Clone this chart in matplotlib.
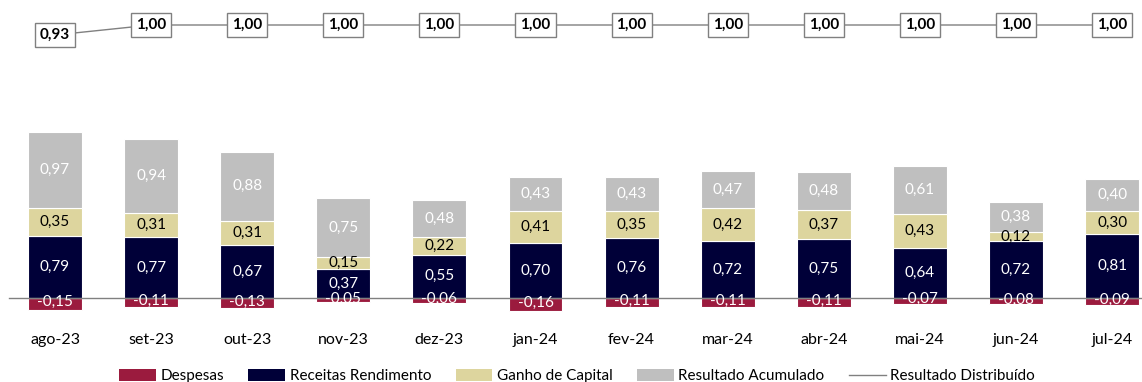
import matplotlib
matplotlib.use("Agg")
import matplotlib.pyplot as plt
from matplotlib.patches import Patch
from matplotlib.lines import Line2D
import numpy as np

plt.rcParams['font.family'] = ['Lato', 'DejaVu Sans']

meses = ["ago-23", "set-23", "out-23", "nov-23", "dez-23", "jan-24",
         "fev-24", "mar-24", "abr-24", "mai-24", "jun-24", "jul-24"]
despesas = [-0.15, -0.11, -0.13, -0.05, -0.06, -0.16, -0.11, -0.11, -0.11, -0.07, -0.08, -0.09]
receitas = [0.79, 0.77, 0.67, 0.37, 0.55, 0.70, 0.76, 0.72, 0.75, 0.64, 0.72, 0.81]
ganho = [0.35, 0.31, 0.31, 0.15, 0.22, 0.41, 0.35, 0.42, 0.37, 0.43, 0.12, 0.30]
acumulado = [0.97, 0.94, 0.88, 0.75, 0.48, 0.43, 0.43, 0.47, 0.48, 0.61, 0.38, 0.40]
distribuido = [0.93, 1.00, 1.00, 1.00, 1.00, 1.00, 1.00, 1.00, 1.00, 1.00, 1.00, 1.00]

c_desp = "#9B1B3E"
c_rec = "#000038"
c_ganho = "#DDD59E"
c_acum = "#BFBFBF"
c_line = "#808080"


def fmt(v):
    return f"{v:.2f}".replace(".", ",")


W, H = 1142, 382
fig = plt.figure(figsize=(W / 100, H / 100), dpi=100)
ax = fig.add_axes([0, 1 - 315 / H, 1, 310 / H])

x = np.arange(len(meses))
w = 0.56
rec = np.array(receitas)
gan = np.array(ganho)
acu = np.array(acumulado)

ax.bar(x, despesas, w, color=c_desp, edgecolor="white", linewidth=0.8, zorder=2)
ax.bar(x, rec, w, color=c_rec, edgecolor="white", linewidth=0.8, zorder=2)
ax.bar(x, gan, w, bottom=rec, color=c_ganho, edgecolor="white", linewidth=0.8, zorder=2)
ax.bar(x, acu, w, bottom=rec + gan, color=c_acum, edgecolor="white", linewidth=0.8, zorder=2)

fs = 11
for i in range(len(meses)):
    ax.text(x[i], despesas[i] / 2 + 0.02, fmt(despesas[i]), ha="center", va="center",
            color="white", fontsize=fs, zorder=4)
    ax.text(x[i], rec[i] / 2, fmt(rec[i]), ha="center", va="center",
            color="white", fontsize=fs, zorder=4)
    ax.text(x[i], rec[i] + gan[i] / 2, fmt(gan[i]), ha="center", va="center",
            color="black", fontsize=fs, zorder=4)
    ax.text(x[i], rec[i] + gan[i] + acu[i] / 2, fmt(acu[i]), ha="center", va="center",
            color="white", fontsize=fs, zorder=4)

ax.axhline(0, xmin=9 / W, xmax=1, color="#808080", linewidth=1, zorder=3)

ax.set_xlim((0 - 55) / 96.1, (W - 55) / 96.1)
ax.set_ylim(-17 / 78.7, 293 / 78.7)
ax.set_xticks(x)
ax.set_xticklabels(meses, fontsize=11.5)
ax.tick_params(axis="x", length=0, pad=13)
ax.set_yticks([])
for s in ax.spines.values():
    s.set_visible(False)

ax2 = ax.twinx()
ax2.set_position(ax.get_position())
ax2.plot(x, distribuido, color=c_line, linewidth=1, zorder=2)
for i in range(len(meses)):
    ax2.text(x[i], distribuido[i], fmt(distribuido[i]), ha="center", va="center",
             fontsize=11, fontweight="bold", zorder=5,
             bbox=dict(boxstyle="square,pad=0.32", facecolor="white", edgecolor=c_line, linewidth=1))
ax2.set_ylim(1 - 290 / 143, 1 + 20 / 143)
ax2.set_yticks([])
for s in ax2.spines.values():
    s.set_visible(False)

handles = [
    Patch(facecolor=c_desp, label="Despesas"),
    Patch(facecolor=c_rec, label="Receitas Rendimento"),
    Patch(facecolor=c_ganho, label="Ganho de Capital"),
    Patch(facecolor=c_acum, label="Resultado Acumulado"),
    Line2D([0], [0], color=c_line, linewidth=1, label="Resultado Distribuído"),
]
fig.legend(handles=handles, loc="center", bbox_to_anchor=(577 / W, 1 - 376 / H), ncol=5,
           frameon=False, fontsize=11, handlelength=2.4, handleheight=0.9,
           handletextpad=0.3, columnspacing=1.6)

fig.savefig("out.png", dpi=100)
